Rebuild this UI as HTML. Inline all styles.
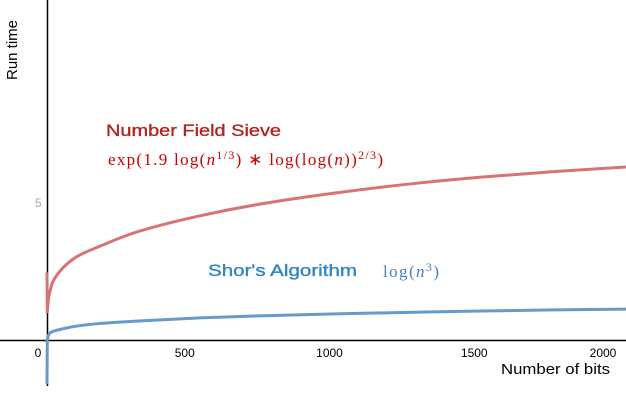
<!DOCTYPE html>
<html><head><meta charset="utf-8"><style>
body{margin:0;background:#fff;width:626px;height:409px;overflow:hidden}
svg{display:block;font-family:"Liberation Sans",sans-serif}
</style></head><body>
<svg id="chart" width="626" height="409" viewBox="0 0 626 409">
<g id="axes">
<line x1="0" y1="340.5" x2="626" y2="340.5" stroke="#000" stroke-width="1.5"/>
<line x1="47.5" y1="0" x2="47.5" y2="386" stroke="#000" stroke-width="1.5"/>
<text transform="translate(17,80) rotate(-90)" font-size="15">Run time</text>
<text x="501" y="374" font-size="15" textLength="109" lengthAdjust="spacingAndGlyphs">Number of bits</text>
<text x="35" y="207" font-size="12" fill="#aaa">5</text>
</g>
<g id="ticks"></g>
<g id="series"></g>
<text x="106" y="136" font-size="17" fill="#b22222" textLength="175" lengthAdjust="spacingAndGlyphs" stroke="#b22222" stroke-width="0.35">Number Field Sieve</text>
<text x="108" y="165" font-size="17" fill="#cc0000" font-family="'Liberation Serif',serif" textLength="275" lengthAdjust="spacing">exp(1.9 log(<tspan font-style="italic">n</tspan><tspan dy="-6" font-size="12">1/3</tspan><tspan dy="6">) ∗ log(log(</tspan><tspan font-style="italic">n</tspan>))<tspan dy="-6" font-size="12">2/3</tspan><tspan dy="6">)</tspan></text>
<text x="208" y="276" font-size="17" fill="#2e86c1" textLength="149" lengthAdjust="spacingAndGlyphs" stroke="#2e86c1" stroke-width="0.35">Shor's Algorithm</text>
<text x="383" y="277" font-size="17" fill="#4a7fc1" font-family="'Liberation Serif',serif" textLength="56" lengthAdjust="spacing">log(<tspan font-style="italic">n</tspan><tspan dy="-6" font-size="12">3</tspan><tspan dy="6">)</tspan></text>
</svg>
<script>
const xTicks=[0,500,1000,1500,2000];
const nPoints=[0,1,5,10,20,45,100,183,300,528,750,1012,1250,1500,1750,2000];
const nfsValues=[2.45,0.98,1.5,1.75,2.1,2.5,3.0,3.4,3.88,4.5,4.95,5.35,5.65,5.9,6.1,6.27];
const shorValues=[-1.6,0,0.17,0.25,0.31,0.38,0.5,0.6,0.68,0.8,0.88,0.95,1.0,1.05,1.09,1.12];
const NS='http://www.w3.org/2000/svg';
function xs(n){return 47+n*0.2895;}
function ys(v){return 340-v*27.6;}
const tg=document.getElementById('ticks');
xTicks.forEach((t)=>{
  const el=document.createElementNS(NS,'text');
  
  
  el.setAttribute('x',t===0?38:Math.min(xs(t)-7,603));
  el.setAttribute('y',357);el.setAttribute('font-size',12);el.setAttribute('text-anchor','middle');
  el.textContent=t;tg.appendChild(el);
});
const sg=document.getElementById('series');
function line(vals,color,name){
  const X=nPoints.slice(1).map(xs),Y=vals.slice(1).map(ys);
  const n=X.length,dx=[],m=[],t=[];
  for(let i=0;i<n-1;i++){dx[i]=X[i+1]-X[i];m[i]=(Y[i+1]-Y[i])/dx[i];}
  t[0]=m[0];t[n-1]=m[n-2];
  for(let i=1;i<n-1;i++){t[i]=(m[i-1]*m[i]<=0)?0:3*(dx[i-1]+dx[i])/((2*dx[i]+dx[i-1])/m[i-1]+(dx[i]+2*dx[i-1])/m[i]);}
  let d='M'+xs(nPoints[0])+','+ys(vals[0])+'L'+X[0]+','+Y[0];
  for(let i=0;i<n-1;i++){
    const h=dx[i]/3;
    d+='C'+(X[i]+h)+','+(Y[i]+t[i]*h)+' '+(X[i+1]-h)+','+(Y[i+1]-t[i+1]*h)+' '+X[i+1]+','+Y[i+1];
  }
  const p=document.createElementNS(NS,'path');
  
  
  p.setAttribute('d',d);p.setAttribute('fill','none');p.setAttribute('stroke',color);p.setAttribute('stroke-width',3);
  sg.appendChild(p);
}
line(nfsValues,'#d97373','nfs-line');
line(shorValues,'#6699cc','shor-line');
</script>
</body></html>
